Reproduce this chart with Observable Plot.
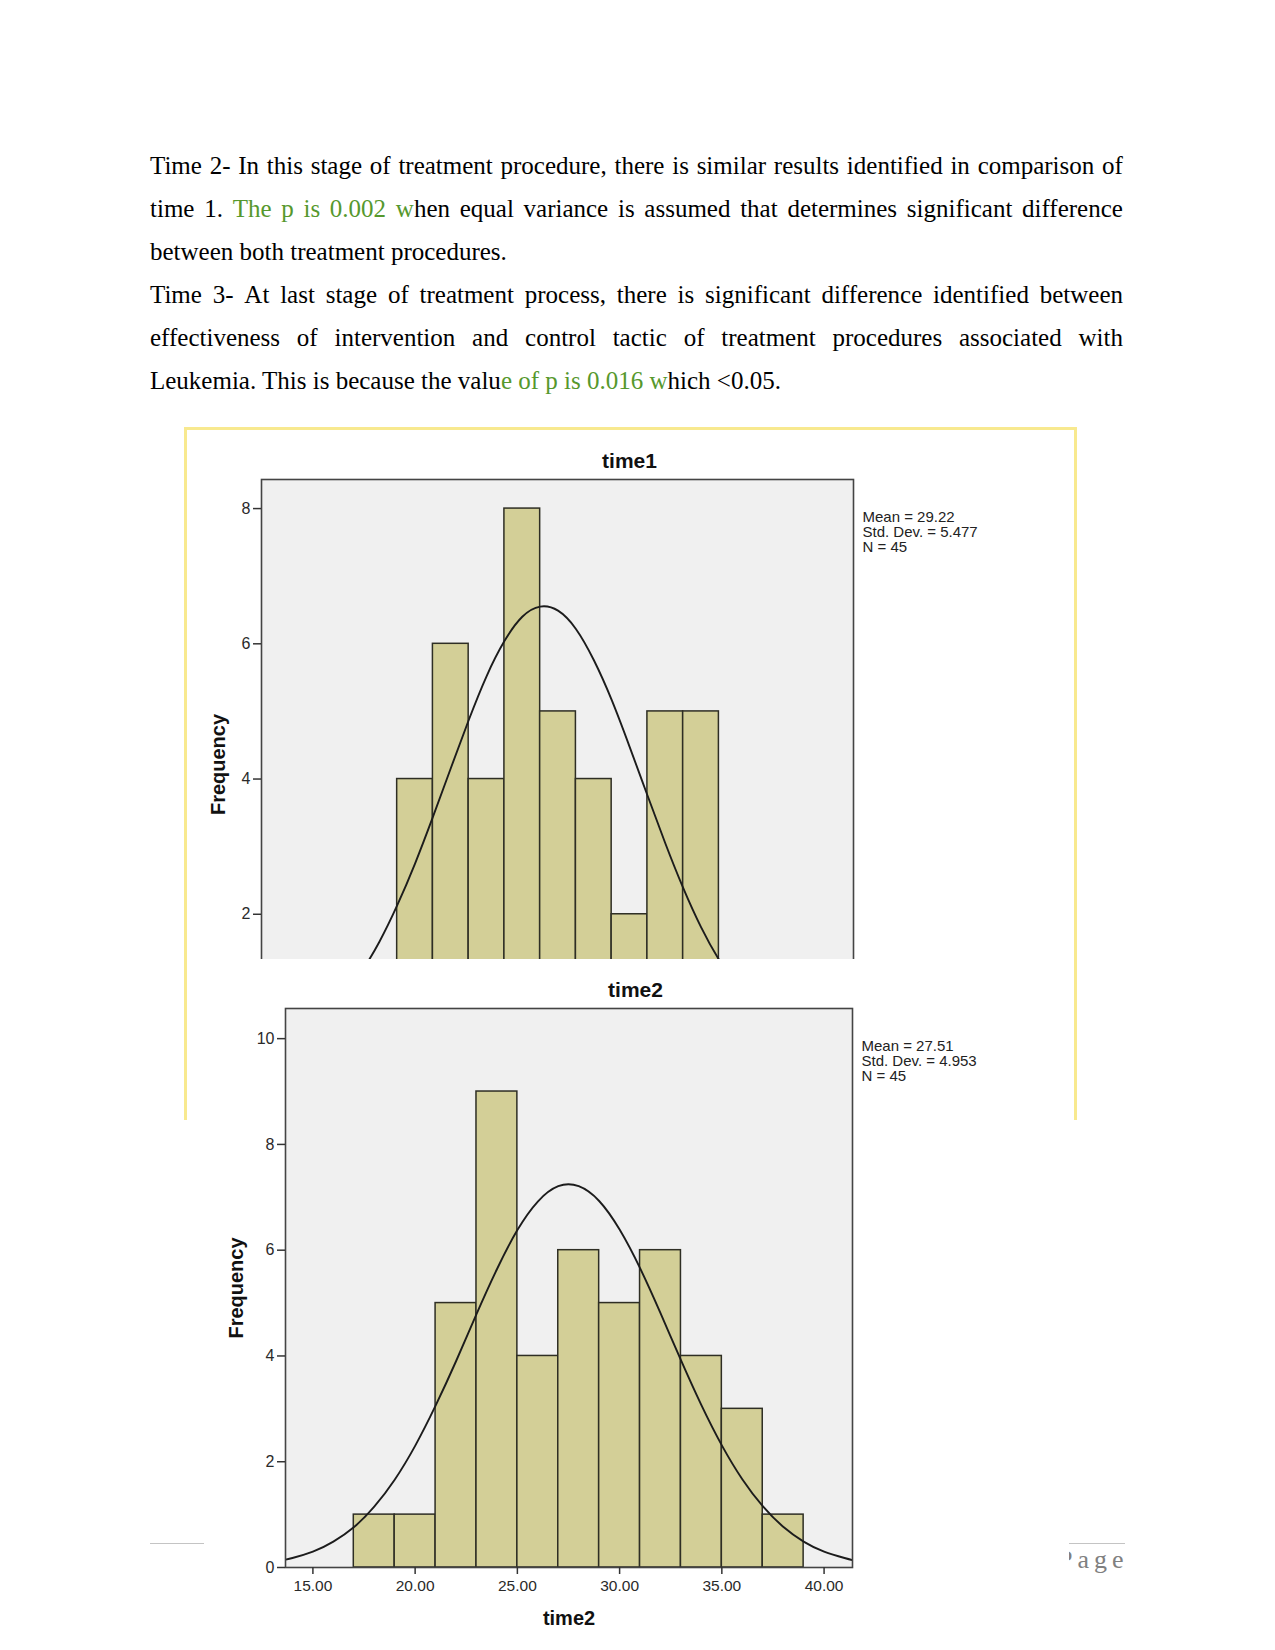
<!DOCTYPE html>
<html>
<head>
<meta charset="utf-8">
<script src="https://cdn.jsdelivr.net/npm/d3@7"></script>
<script src="https://cdn.jsdelivr.net/npm/@observablehq/plot@0.6"></script>
<style>
  body { margin: 0; background: #fff; }
  #page { position: relative; width: 1275px; height: 1650px; background: #fff; overflow: hidden;
          font-family: "Liberation Serif", "Times New Roman", serif; }
  .ln { position: absolute; left: 150px; width: 973px; height: 43px; font-size: 25px; line-height: 43px;
        white-space: nowrap; color: #000; }
  .ln.j { display: flex; justify-content: space-between; }
  #frame { position: absolute; left: 184px; top: 427px; width: 887px; height: 690px;
           border: 3px solid #f8e98f; border-bottom: none; }
  #t1wrap { position: absolute; left: 187px; top: 430px; width: 886px; height: 529px; overflow: hidden; }
  #t2wrap { position: absolute; left: 204px; top: 959px; width: 865px; height: 691px; background: #fff; }
  .fline { position: absolute; height: 0; border-top: 1px solid #c4c4c4; }
  #pg { position: absolute; left: 1058px; top: 1547px; font-family: "Liberation Serif", serif; font-size: 26px;
        line-height: 26px; letter-spacing: 5px; color: #808080; }
</style>
</head>
<body>
<div id="page">
  <div id="text"></div>
  <div class="fline" style="left:150px;width:54px;top:1543px;"></div>
  <div class="fline" style="left:1069px;width:56px;top:1543px;"></div>
  <div id="pg">Page</div>
  <div id="frame"></div>
  <div id="t1wrap"></div>
  <div id="t2wrap"></div>
</div>
<script>
// ---------- text ----------
const GREEN = "#56982d";
const textLines = [
  "Time 2- In this stage of treatment procedure, there is similar results identified in comparison of",
  "time 1. {The p is 0.002 w}hen equal variance is assumed that determines significant difference",
  "between both treatment procedures.",
  "Time 3- At last stage of treatment process, there is significant difference identified between",
  "effectiveness of intervention and control tactic of treatment procedures associated with",
  "Leukemia. This is because the valu{e of p is 0.016 w}hich <0.05."
];
const textJustified = [true, true, false, true, true, false];
const textTops = [143.5, 186.5, 229.5, 273, 316, 359];

// ---------- chart data ----------
const time1Edges = [21, 23, 25, 27, 29, 31, 33, 35, 37, 39];
const time1Counts = [4, 6, 4, 8, 5, 4, 2, 5, 5];
const time1CurveX = [13.4, 14, 15, 16, 17, 18, 19, 20, 21, 22, 23, 24, 25, 26, 27, 28, 29, 30, 31, 32, 33, 34, 35, 36, 37, 38, 39, 40, 41, 42, 43, 44, 45, 46, 46.5];
const time1CurveY = [0.10, 0.14, 0.23, 0.36, 0.54, 0.80, 1.15, 1.59, 2.13, 2.75, 3.44, 4.16, 4.87, 5.52, 6.04, 6.40, 6.55, 6.49, 6.22, 5.76, 5.17, 4.48, 3.76, 3.05, 2.39, 1.81, 1.33, 0.95, 0.65, 0.43, 0.28, 0.17, 0.10, 0.06, 0.05];
const time1Stats = ["Mean = 29.22", "Std. Dev. = 5.477", "N = 45"];
const time1YTicks = [2, 4, 6, 8];

const time2Edges = [17, 19, 21, 23, 25, 27, 29, 31, 33, 35, 37, 39];
const time2Counts = [1, 1, 5, 9, 4, 6, 5, 6, 4, 3, 1];
const time2CurveX = [13.66, 14, 15, 16, 17, 18, 19, 20, 21, 22, 23, 24, 25, 26, 27, 28, 29, 30, 31, 32, 33, 34, 35, 36, 37, 38, 39, 40, 41, 41.39];
const time2CurveY = [0.15, 0.18, 0.30, 0.49, 0.76, 1.15, 1.66, 2.30, 3.06, 3.90, 4.79, 5.64, 6.38, 6.92, 7.21, 7.21, 6.93, 6.39, 5.66, 4.81, 3.92, 3.07, 2.31, 1.67, 1.16, 0.77, 0.49, 0.30, 0.18, 0.14];
const time2Stats = ["Mean = 27.51", "Std. Dev. = 4.953", "N = 45"];
const time2YTicks = [0, 2, 4, 6, 8, 10];
const time2XTicks = [15, 20, 25, 30, 35, 40];

// ---------- render text ----------
const textHost = document.getElementById("text");
textLines.forEach((str, li) => {
  const div = document.createElement("div");
  div.className = "ln" + (textJustified[li] ? " j" : "");
  div.style.top = textTops[li] + "px";
  let green = false;
  const words = str.split(" ");
  words.forEach((w, i) => {
    const ws = document.createElement("span");
    let buf = "";
    const flush = () => {
      if (buf) {
        const s = document.createElement("span");
        if (green) s.style.color = GREEN;
        s.textContent = buf;
        ws.appendChild(s);
        buf = "";
      }
    };
    for (const ch of w) {
      if (ch === "{") { flush(); green = true; }
      else if (ch === "}") { flush(); green = false; }
      else buf += ch;
    }
    flush();
    div.appendChild(ws);
    if (!textJustified[li] && i < words.length - 1) div.appendChild(document.createTextNode(" "));
  });
  textHost.appendChild(div);
});

// ---------- charts ----------
function hist(o) {
  const bars = o.counts.map((c, i) => ({x1: o.edges[i], x2: o.edges[i + 1], count: c}));
  const curve = o.cx.map((x, i) => ({x, y: o.cy[i]}));
  const marks = [
    Plot.frame({fill: "#f0f0f0"}),
    Plot.rect(bars, {x1: "x1", x2: "x2", y1: 0, y2: "count", fill: "#d3cf97", stroke: "#2e2e24", strokeWidth: 1.5}),
    Plot.line(curve, {x: "x", y: "y", curve: "natural", stroke: "#1c1c1c", strokeWidth: 1.9, clip: true}),
    Plot.frame({stroke: "#444", strokeWidth: 1.6}),
    Plot.axisY({ticks: o.yTicks, tickSize: 8, tickFormat: () => "", label: null, strokeWidth: 1.5, stroke: "#333"}),
    Plot.text(o.yTicks, {y: d => d, text: d => String(d), frameAnchor: "left", dx: -11, textAnchor: "end",
                         lineAnchor: "middle", fontSize: 16, fill: "#2a2a2a"}),
    Plot.text([o.title], {text: d => d, frameAnchor: "top", dx: o.titleDx, dy: -18, lineAnchor: "middle", textAnchor: "middle",
                          fontWeight: "bold", fontSize: 21, fill: "#111"}),
    Plot.text([o.stats.join("\n")], {text: d => d, frameAnchor: "top-right", dx: 9, dy: 53, textAnchor: "start",
                          lineAnchor: "middle", lineHeight: 1, fontSize: 15, fill: "#222"}),
    Plot.text(["Frequency"], {text: d => d, frameAnchor: "left", dx: o.freqDx, rotate: -90, lineAnchor: "middle",
                          textAnchor: "middle", fontWeight: "bold", fontSize: 20, fill: "#111"})
  ];
  if (o.xTicks) {
    marks.push(Plot.axisX({ticks: o.xTicks, tickSize: 7, tickFormat: () => "", label: null, strokeWidth: 1.5, stroke: "#333"}));
    marks.push(Plot.text(o.xTicks, {x: d => d, text: d => d3.format(".2f")(d), frameAnchor: "bottom", dy: 19,
                         lineAnchor: "middle", textAnchor: "middle", fontSize: 15.5, fill: "#2a2a2a"}));
    marks.push(Plot.text([o.xLabel], {text: d => d, frameAnchor: "bottom", dy: 51, lineAnchor: "middle", textAnchor: "middle",
                          fontWeight: "bold", fontSize: 20, fill: "#111"}));
  }
  return Plot.plot({
    width: o.width, height: o.height,
    marginLeft: o.ml, marginRight: o.mr, marginTop: o.mt, marginBottom: o.mb,
    x: {domain: o.xDomain, axis: null},
    y: {domain: o.yDomain, axis: null},
    style: {background: "#fff", fontFamily: "'Liberation Sans', Arial, sans-serif", fontSize: "14px", color: "#333", overflow: "visible"},
    marks
  });
}

document.getElementById("t1wrap").appendChild(hist({
  edges: time1Edges, counts: time1Counts, cx: time1CurveX, cy: time1CurveY,
  xDomain: [13.41, 46.53], yDomain: [0, 8.43], yTicks: time1YTicks,
  title: "time1", titleDx: 72, stats: time1Stats, freqDx: -43,
  width: 886, height: 659, ml: 74, mr: 220, mt: 49, mb: 40
}));

document.getElementById("t2wrap").appendChild(hist({
  edges: time2Edges, counts: time2Counts, cx: time2CurveX, cy: time2CurveY,
  xDomain: [13.66, 41.39], yDomain: [0, 10.57], yTicks: time2YTicks, xTicks: time2XTicks, xLabel: "time2",
  title: "time2", titleDx: 66.5, stats: time2Stats, freqDx: -49,
  width: 865, height: 691, ml: 81, mr: 217, mt: 49, mb: 83
}));
</script>
</body>
</html>
